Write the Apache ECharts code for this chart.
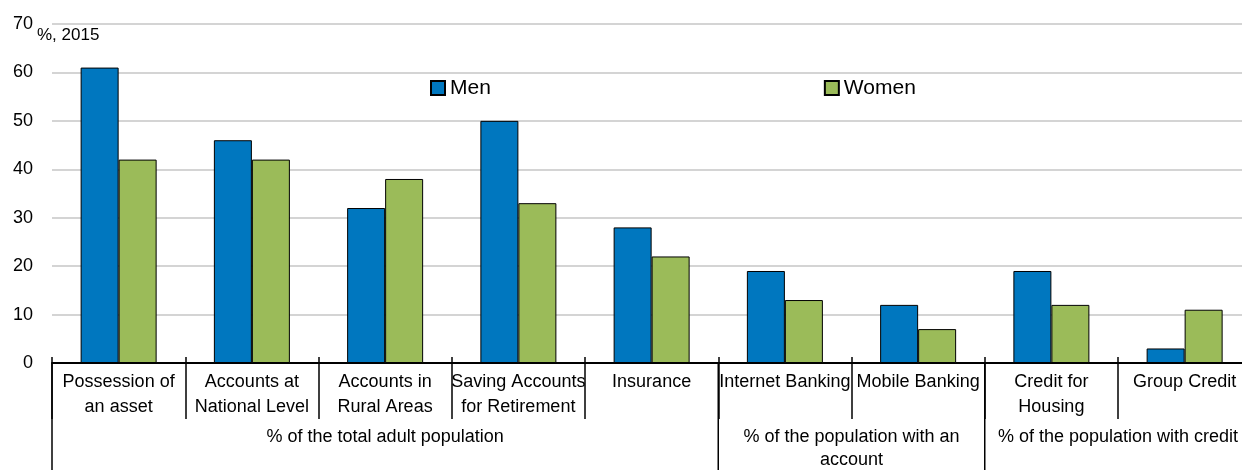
<!DOCTYPE html>
<html>
<head>
<meta charset="utf-8">
<script src="https://cdn.jsdelivr.net/npm/echarts@6/dist/echarts.min.js"></script>
<style>
html,body{margin:0;padding:0;background:#fff;}
#chart{width:1242px;height:470px;}
</style>
</head>
<body>
<div id="chart"></div>
<script>
const categories = [
  "Possession of\nan asset",
  "Accounts at\nNational Level",
  "Accounts in\nRural Areas",
  "Saving Accounts\nfor Retirement",
  "Insurance",
  "Internet Banking",
  "Mobile Banking",
  "Credit for\nHousing",
  "Group Credit"
];
const men = [61, 46, 32, 50, 28, 19, 12, 19, 3];
const women = [42, 42, 38, 33, 22, 13, 7, 12, 11];
const groupNames = [
  "% of the total adult population",
  "% of the population with an\naccount",
  "% of the population with credit"
];
const groupSpans = [5, 2, 2];
const yTicks = { min: 0, max: 70, interval: 10 };
const unitLabel = "%, 2015";

const FONT = "'Liberation Sans', Arial, sans-serif";
const chart = echarts.init(document.getElementById('chart'), null, {renderer: 'canvas'});

const option = {
  animation: false,
  backgroundColor: '#fff',
  textStyle: { fontFamily: FONT, color: '#000' },
  title: {
    text: unitLabel,
    left: 37, top: 27,
    padding: 0,
    textStyle: { fontFamily: FONT, fontSize: 17, fontWeight: 'normal', color: '#000' }
  },
  legend: {
    left: 430, top: 77, padding: 0,
    itemWidth: 14, itemHeight: 14, itemGap: 333,
    icon: 'rect',
    textStyle: { fontFamily: FONT, fontSize: 21, color: '#000', lineHeight: 22 },
    data: ['Men', 'Women']
  },
  grid: { left: 52, top: 24, width: 1199.25, height: 339, containLabel: false, outerBoundsMode: 'none' },
  xAxis: [
    {
      type: 'category',
      data: categories,
      position: 'bottom',
      axisLine: { show: true, lineStyle: { color: '#000', width: 2 } },
      axisTick: { show: true, inside: true, length: 6, lineStyle: { color: '#000', width: 1.5 } },
      axisLabel: {
        interval: 0, margin: 7,
        fontFamily: FONT, fontSize: 18, color: '#000', lineHeight: 25
      },
      splitLine: { show: false }
    },
    {
      type: 'category',
      data: categories,
      position: 'bottom',
      axisLine: { show: false },
      axisTick: { show: true, inside: false, length: 56, lineStyle: { color: '#000', width: 1.5 } },
      axisLabel: { show: false },
      splitLine: { show: false }
    }
  ],
  yAxis: {
    type: 'value',
    min: yTicks.min, max: yTicks.max, interval: yTicks.interval,
    axisLine: { show: false },
    axisTick: { show: false },
    axisLabel: { fontFamily: FONT, fontSize: 18, color: '#000', margin: 19 },
    splitLine: { show: true, lineStyle: { color: '#c6c6c6', width: 1.5 } }
  },
  series: [
    {
      name: 'Men', type: 'bar', data: men,
      barWidth: 38, barGap: '0%',
      itemStyle: { color: '#0077BF', borderColor: '#000', borderWidth: 1 }
    },
    {
      name: 'Women', type: 'bar', data: women,
      barWidth: 38, barGap: '0%',
      itemStyle: { color: '#9BBB59', borderColor: '#000', borderWidth: 1 }
    }
  ]
};
chart.setOption(option);

// Build group labels and long separators from the axis scale
const c0 = chart.convertToPixel({ xAxisIndex: 0 }, categories[0]);
const c1 = chart.convertToPixel({ xAxisIndex: 0 }, categories[1]);
const band = c1 - c0;
const axisY = chart.convertToPixel({ yAxisIndex: 0 }, 0);
const boundaryX = k => c0 - band / 2 + k * band;

const graphics = [];
let start = 0;
const bounds = [0];
groupSpans.forEach(s => { start += s; bounds.push(start); });
bounds.forEach(k => {
  graphics.push({
    type: 'line',
    shape: { x1: boundaryX(k), y1: axisY, x2: boundaryX(k), y2: 470 },
    style: { stroke: '#000', lineWidth: 1.5 }
  });
});
for (let g = 0; g < groupNames.length; g++) {
  const xm = (boundaryX(bounds[g]) + boundaryX(bounds[g + 1])) / 2;
  graphics.push({
    type: 'text',
    x: xm, y: axisY + 62.5,
    style: {
      text: groupNames[g],
      fontFamily: FONT, fontSize: 18, lineHeight: 23,
      fill: '#000', align: 'center', verticalAlign: 'top'
    }
  });
}
chart.setOption({ graphic: graphics });
</script>
</body>
</html>
